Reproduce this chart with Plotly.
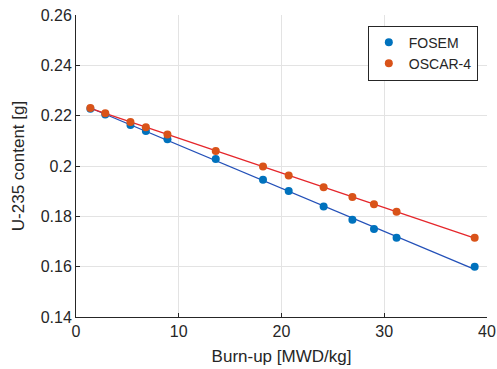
import numpy as np
import plotly.graph_objects as go

burnup_fosem = [1.4, 2.85, 5.3, 6.8, 8.9, 13.6, 18.2, 20.7, 24.1, 26.9, 29.0, 31.2, 38.8]
u235_fosem = [0.2227, 0.2205, 0.2163, 0.2139, 0.2106, 0.2028, 0.1945, 0.1901, 0.1839, 0.1786, 0.1750, 0.1715, 0.1600]
burnup_oscar = [1.4, 2.85, 5.3, 6.8, 8.9, 13.6, 18.2, 20.7, 24.1, 26.9, 29.0, 31.2, 38.8]
u235_oscar = [0.2230, 0.2210, 0.2175, 0.2154, 0.2125, 0.2060, 0.1998, 0.1962, 0.1916, 0.1877, 0.1848, 0.1818, 0.1715]

x_ticks = [0, 10, 20, 30, 40]
y_ticks = [0.14, 0.16, 0.18, 0.2, 0.22, 0.24, 0.26]
y_tick_labels = ["0.14", "0.16", "0.18", "0.2", "0.22", "0.24", "0.26"]

fig = go.Figure()

def fit_line(xs, ys):
    xs = np.array(xs); ys = np.array(ys)
    k, b = np.polyfit(xs, ys, 1)
    xe = np.array([xs.min(), xs.max()])
    return xe, k * xe + b

xf, yf = fit_line(burnup_fosem, u235_fosem)
xo, yo = fit_line(burnup_oscar, u235_oscar)

fig.add_trace(go.Scatter(x=xf, y=yf, mode="lines", line=dict(color="#2350b8", width=1.3),
                         showlegend=False, hoverinfo="skip"))
fig.add_trace(go.Scatter(x=xo, y=yo, mode="lines", line=dict(color="#e5262b", width=1.3),
                         showlegend=False, hoverinfo="skip"))
fig.add_trace(go.Scatter(x=burnup_fosem, y=u235_fosem, mode="markers", name="FOSEM",
                         marker=dict(color="#0072BD", size=8)))
fig.add_trace(go.Scatter(x=burnup_oscar, y=u235_oscar, mode="markers", name="OSCAR-4",
                         marker=dict(color="#D95319", size=8)))

fig.update_layout(
    width=497, height=369,
    margin=dict(l=76, r=10, t=15, b=52, autoexpand=False),
    paper_bgcolor="white", plot_bgcolor="white",
    font=dict(family="Liberation Sans, Arial, sans-serif", size=16, color="#262626"),
    legend=dict(x=0.71, y=0.965, xanchor="left", yanchor="top",
                bgcolor="white", bordercolor="#262626", borderwidth=1,
                font=dict(size=14), itemwidth=30, tracegroupgap=0),
)
fig.update_xaxes(range=[0, 40], tickvals=x_ticks, showgrid=True, gridcolor="#e3e3e3",
                 showline=True, linecolor="#262626", linewidth=1, mirror=False,
                 ticks="inside", ticklen=4, tickcolor="#262626", zeroline=False,
                 automargin=False,
                 title=dict(text="Burn-up [MWD/kg]", font=dict(size=17), standoff=10))
fig.update_yaxes(range=[0.14, 0.26], tickvals=y_ticks, ticktext=y_tick_labels, showgrid=True,
                 gridcolor="#e3e3e3", showline=True, linecolor="#262626", linewidth=1,
                 ticks="inside", ticklen=4, tickcolor="#262626", zeroline=False,
                 automargin=False,
                 title=dict(text="U-235 content [g]", font=dict(size=17), standoff=11))

fig.write_html("out.html", config={"displayModeBar": False},
               post_script="document.body.style.margin='0';")
